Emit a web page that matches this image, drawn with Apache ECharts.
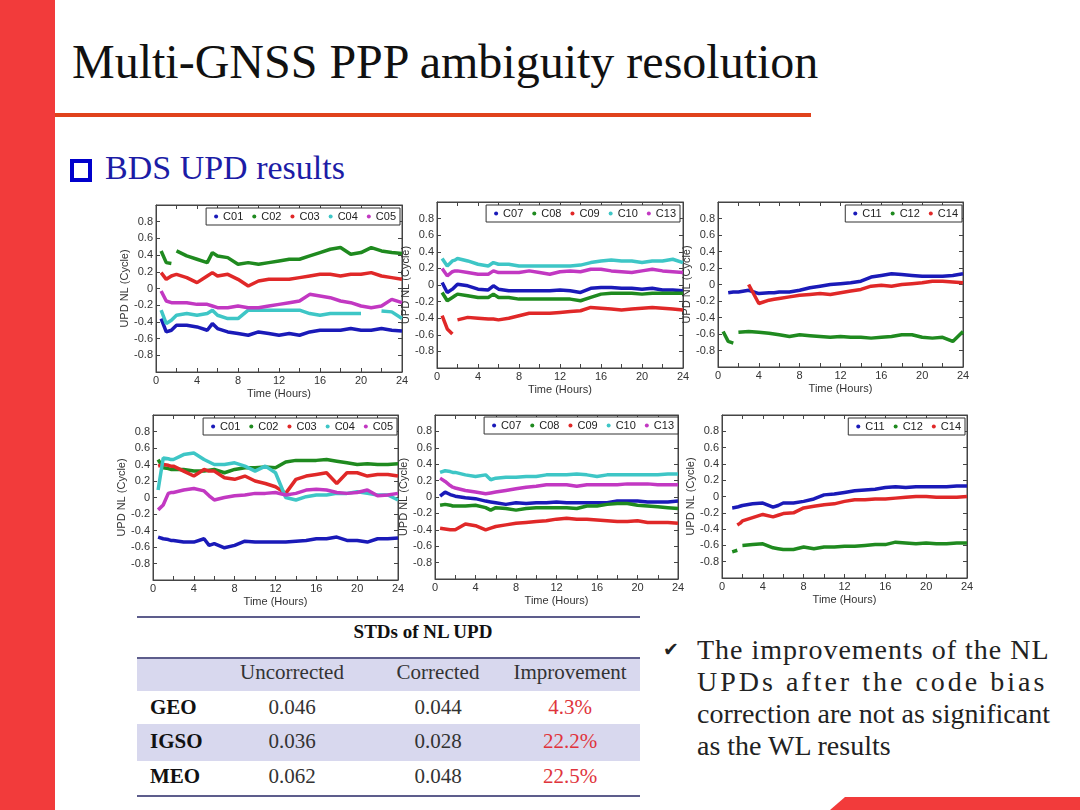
<!DOCTYPE html>
<html>
<head>
<meta charset="utf-8">
<title>BDS UPD results</title>
<script src="https://cdn.jsdelivr.net/npm/echarts@6/dist/echarts.min.js"></script>
<style>
  html, body { margin: 0; padding: 0; background: #fff; }
  #slide { position: relative; width: 1080px; height: 810px; overflow: hidden; background: #fff; font-family: "Liberation Serif", serif; color: #111; }
  #slide div { position: absolute; }
  #chart { left: 0; top: 0; width: 1080px; height: 810px; z-index: 2; }
  .bar { left: 0; top: 0; width: 55px; height: 810px; background: #f23b3b; }
  .rule { left: 55px; top: 113px; width: 756px; height: 4px; background: #e0421c; }
  .title { left: 72px; top: 38px; font-size: 48px; line-height: 48px; white-space: nowrap; }
  .box { left: 70px; top: 159px; width: 14px; height: 15px; border: 4px solid #0000cc; }
  .sub { left: 105px; top: 151px; font-size: 34px; line-height: 34px; color: #1c1ca6; white-space: nowrap; }
  .tline { left: 137px; width: 503px; height: 2px; background: #5d5d8c; }
  .band { left: 137px; width: 503px; background: #d8d8ee; }
  .cell { width: 160px; margin-left: -80px; text-align: center; font-size: 21px; line-height: 24px; color: #333; white-space: nowrap; }
  .lab { left: 150px; font-size: 21px; line-height: 24px; font-weight: bold; color: #111; }
  .red { color: #e0343c; }
  .note { left: 697px; font-size: 28px; line-height: 32px; color: #222; white-space: nowrap; }
  .tick { left: 663px; top: 638px; font-family: "DejaVu Sans", sans-serif; font-size: 19px; color: #222; }
  .corner { left: 830px; top: 797px; width: 250px; height: 13px; background: #f23b3b; clip-path: polygon(0 100%, 15px 0, 100% 0, 100% 100%); }
</style>
</head>
<body>
<div id="slide">
  <div class="bar"></div>
  <div class="title">Multi-GNSS PPP ambiguity resolution</div>
  <div class="rule"></div>
  <div class="box"></div>
  <div class="sub">BDS UPD results</div>

  <div class="tline" style="top:616px"></div>
  <div class="cell" style="left:423px;top:620px;font-weight:bold;font-size:19px;color:#111">STDs of NL UPD</div>
  <div class="band" style="top:658px;height:33px"></div>
  <div class="tline" style="top:657px"></div>
  <div class="band" style="top:724px;height:37px"></div>
  <div class="tline" style="top:795px"></div>
  <div id="table"></div>

  <div class="tick">✔</div>
  <div class="note" style="top:634px;letter-spacing:1px">The improvements of the NL</div>
  <div class="note" style="top:666px;letter-spacing:3px">UPDs after the code bias</div>
  <div class="note" style="top:698px">correction are not as significant</div>
  <div class="note" style="top:730px">as the WL results</div>

  <div class="corner"></div>
  <div id="chart"></div>
</div>
<script>
// time axis (hours) shared by every panel
const HOURS = [0.5, 1, 1.5, 1.75, 2, 3, 4, 5, 5.5, 6, 7, 8, 9, 10, 11, 12, 13, 14, 15, 16, 17, 18, 19, 20, 21, 22, 23, 24]

// top row: uncorrected NL UPD
const rawC01 = [-0.36, -0.52, -0.50, -0.47, -0.44, -0.44, -0.46, -0.50, -0.42, -0.48, -0.52, -0.54, -0.56, -0.52, -0.54, -0.56, -0.54, -0.56, -0.52, -0.50, -0.50, -0.50, -0.48, -0.50, -0.50, -0.48, -0.50, -0.51]
const rawC02 = [0.45, 0.31, 0.30, null, 0.45, 0.39, 0.35, 0.31, 0.43, 0.39, 0.37, 0.29, 0.31, 0.29, 0.31, 0.33, 0.35, 0.35, 0.39, 0.43, 0.47, 0.49, 0.41, 0.43, 0.49, 0.45, 0.43, 0.42]
const rawC03 = [0.19, 0.11, 0.15, 0.16, 0.17, 0.13, 0.07, 0.15, 0.19, 0.15, 0.17, 0.11, 0.03, 0.09, 0.11, 0.11, 0.11, 0.13, 0.15, 0.17, 0.17, 0.15, 0.17, 0.17, 0.19, 0.15, 0.13, 0.11]
const rawC04 = [-0.26, -0.42, -0.38, -0.35, -0.32, -0.30, -0.32, -0.30, -0.26, -0.32, -0.36, -0.36, -0.26, -0.26, -0.26, -0.26, -0.26, -0.26, -0.30, -0.32, -0.30, -0.30, -0.30, -0.30, null, -0.27, -0.28, -0.36]
const rawC05 = [-0.03, -0.15, -0.17, -0.17, -0.17, -0.17, -0.19, -0.19, -0.21, -0.23, -0.23, -0.21, -0.23, -0.23, -0.21, -0.19, -0.17, -0.15, -0.07, -0.09, -0.11, -0.15, -0.17, -0.21, -0.23, -0.21, -0.13, -0.17]
const rawC07 = [0.03, -0.09, -0.05, -0.02, 0.01, -0.01, -0.05, -0.06, -0.01, -0.05, -0.07, -0.07, -0.07, -0.07, -0.07, -0.06, -0.07, -0.09, -0.04, -0.03, -0.03, -0.04, -0.04, -0.05, -0.04, -0.06, -0.06, -0.07]
const rawC08 = [-0.09, -0.19, -0.15, -0.13, -0.11, -0.13, -0.15, -0.15, -0.11, -0.15, -0.15, -0.17, -0.17, -0.17, -0.17, -0.17, -0.17, -0.19, -0.15, -0.11, -0.10, -0.10, -0.10, -0.11, -0.10, -0.10, -0.10, -0.10]
const rawC09 = [-0.37, -0.53, -0.59, null, -0.42, -0.39, -0.40, -0.41, -0.41, -0.42, -0.40, -0.37, -0.34, -0.34, -0.34, -0.33, -0.32, -0.31, -0.27, -0.28, -0.29, -0.30, -0.29, -0.28, -0.27, -0.28, -0.29, -0.30]
const rawC10 = [0.32, 0.23, 0.29, 0.30, 0.32, 0.29, 0.25, 0.23, 0.27, 0.25, 0.25, 0.23, 0.23, 0.23, 0.23, 0.23, 0.23, 0.24, 0.27, 0.29, 0.30, 0.29, 0.29, 0.27, 0.29, 0.29, 0.31, 0.27]
const rawC13 = [0.20, 0.11, 0.16, 0.17, 0.17, 0.15, 0.13, 0.13, 0.17, 0.15, 0.15, 0.15, 0.17, 0.15, 0.13, 0.16, 0.17, 0.16, 0.19, 0.19, 0.17, 0.16, 0.15, 0.17, 0.19, 0.17, 0.16, 0.15]
const rawC11 = [null, -0.10, -0.09, -0.09, -0.09, -0.07, -0.11, -0.10, -0.10, -0.09, -0.09, -0.07, -0.04, -0.02, 0.00, 0.01, 0.02, 0.04, 0.09, 0.11, 0.13, 0.12, 0.11, 0.10, 0.10, 0.10, 0.11, 0.13]
const rawC12 = [-0.57, -0.69, -0.71, null, -0.58, -0.57, -0.58, -0.59, -0.60, -0.61, -0.63, -0.61, -0.62, -0.63, -0.64, -0.63, -0.64, -0.64, -0.65, -0.64, -0.63, -0.61, -0.61, -0.64, -0.65, -0.64, -0.69, -0.57]
const rawC14 = [null, null, null, null, null, 0.00, -0.23, -0.19, -0.18, -0.17, -0.15, -0.13, -0.12, -0.11, -0.12, -0.10, -0.08, -0.06, -0.02, -0.01, -0.02, 0.00, 0.01, 0.02, 0.04, 0.04, 0.03, 0.02]

// bottom row: code-bias corrected NL UPD
const corC01 = [-0.48, -0.50, -0.51, -0.52, -0.52, -0.54, -0.54, -0.50, -0.58, -0.56, -0.61, -0.58, -0.53, -0.54, -0.54, -0.54, -0.54, -0.53, -0.52, -0.50, -0.50, -0.48, -0.52, -0.52, -0.54, -0.50, -0.50, -0.49]
const corC02 = [0.46, 0.36, 0.35, 0.34, 0.34, 0.34, 0.32, 0.32, 0.33, 0.34, 0.30, 0.34, 0.36, 0.36, 0.37, 0.36, 0.43, 0.45, 0.45, 0.45, 0.46, 0.44, 0.42, 0.40, 0.41, 0.40, 0.40, 0.41]
const corC03 = [0.38, 0.40, 0.39, 0.38, 0.38, 0.32, 0.26, 0.34, 0.32, 0.32, 0.24, 0.22, 0.26, 0.20, 0.17, 0.13, 0.05, 0.22, 0.26, 0.28, 0.30, 0.17, 0.30, 0.30, 0.26, 0.28, 0.28, 0.26]
const corC04 = [0.09, 0.48, 0.47, 0.46, 0.46, 0.52, 0.54, 0.46, 0.43, 0.40, 0.40, 0.42, 0.38, 0.32, 0.38, 0.30, 0.00, -0.03, 0.01, 0.03, 0.03, 0.05, 0.05, 0.07, 0.05, 0.03, 0.03, -0.03]
const corC05 = [-0.15, -0.09, 0.05, 0.06, 0.06, 0.09, 0.11, 0.08, 0.02, -0.03, 0.00, 0.02, 0.03, 0.05, 0.05, 0.06, 0.03, 0.05, 0.09, 0.10, 0.09, 0.06, 0.05, 0.06, 0.09, 0.02, 0.03, 0.05]
const corC07 = [0.01, 0.06, 0.03, 0.02, 0.01, -0.01, -0.02, -0.05, -0.06, -0.07, -0.09, -0.07, -0.08, -0.07, -0.07, -0.06, -0.07, -0.07, -0.07, -0.07, -0.07, -0.05, -0.05, -0.05, -0.06, -0.06, -0.06, -0.05]
const corC08 = [-0.10, -0.09, -0.10, -0.11, -0.11, -0.11, -0.10, -0.13, -0.16, -0.13, -0.14, -0.16, -0.14, -0.13, -0.13, -0.13, -0.13, -0.14, -0.11, -0.11, -0.09, -0.08, -0.08, -0.10, -0.11, -0.12, -0.13, -0.14]
const corC09 = [-0.38, -0.39, -0.40, -0.40, -0.40, -0.33, -0.35, -0.40, -0.38, -0.36, -0.34, -0.32, -0.31, -0.30, -0.29, -0.27, -0.26, -0.27, -0.27, -0.28, -0.29, -0.30, -0.30, -0.29, -0.31, -0.31, -0.31, -0.32]
const corC10 = [0.30, 0.32, 0.31, 0.30, 0.30, 0.27, 0.25, 0.27, 0.21, 0.23, 0.24, 0.24, 0.25, 0.25, 0.27, 0.27, 0.27, 0.28, 0.27, 0.25, 0.27, 0.27, 0.27, 0.27, 0.27, 0.27, 0.28, 0.28]
const corC13 = [0.23, 0.19, 0.14, 0.12, 0.11, 0.08, 0.06, 0.04, 0.05, 0.06, 0.08, 0.10, 0.12, 0.13, 0.15, 0.15, 0.15, 0.13, 0.15, 0.15, 0.15, 0.15, 0.16, 0.16, 0.16, 0.15, 0.15, 0.15]
const corC11 = [null, -0.14, -0.13, -0.12, -0.11, -0.09, -0.08, -0.13, -0.11, -0.08, -0.08, -0.06, -0.03, 0.02, 0.03, 0.05, 0.07, 0.08, 0.09, 0.11, 0.12, 0.11, 0.12, 0.12, 0.12, 0.12, 0.13, 0.13]
const corC12 = [null, -0.68, -0.66, null, -0.60, -0.59, -0.58, -0.63, -0.64, -0.65, -0.65, -0.62, -0.64, -0.62, -0.62, -0.61, -0.61, -0.60, -0.59, -0.59, -0.56, -0.57, -0.58, -0.57, -0.58, -0.58, -0.57, -0.57]
const corC14 = [null, null, -0.35, -0.33, -0.30, -0.26, -0.22, -0.25, -0.23, -0.21, -0.20, -0.14, -0.12, -0.10, -0.09, -0.06, -0.04, -0.04, -0.03, -0.03, -0.02, -0.01, 0.00, 0.00, -0.01, -0.01, -0.01, 0.00]

// STD table
const ORBITS = ['GEO', 'IGSO', 'MEO']
const STD_UNCORRECTED = ['0.046', '0.036', '0.062']
const STD_CORRECTED = ['0.044', '0.028', '0.048']
const STD_IMPROVEMENT = ['4.3%', '22.2%', '22.5%']

const SAT_COLORS = {
  C01: '#1a1ab8', C02: '#1f8a1f', C03: '#e02828', C04: '#3ec6c6', C05: '#c238c2',
  C07: '#1a1ab8', C08: '#1f8a1f', C09: '#e02828', C10: '#3ec6c6', C13: '#c238c2',
  C11: '#1a1ab8', C12: '#1f8a1f', C14: '#e02828'
}

// panel layout: grid [left, top, width, height], legend [right, top]
const PANELS = [
  { grid: [156, 205, 246, 167], legend: [680, 208], sats: ['C01', 'C02', 'C03', 'C04', 'C05'], values: [rawC01, rawC02, rawC03, rawC04, rawC05] },
  { grid: [437, 202, 246, 166], legend: [400, 205], sats: ['C07', 'C08', 'C09', 'C10', 'C13'], values: [rawC07, rawC08, rawC09, rawC10, rawC13] },
  { grid: [718, 202, 245, 165], legend: [118, 205], sats: ['C11', 'C12', 'C14'], values: [rawC11, rawC12, rawC14] },
  { grid: [153, 415, 245, 165], legend: [683, 418], sats: ['C01', 'C02', 'C03', 'C04', 'C05'], values: [corC01, corC02, corC03, corC04, corC05] },
  { grid: [435, 415, 243, 164], legend: [402, 417], sats: ['C07', 'C08', 'C09', 'C10', 'C13'], values: [corC07, corC08, corC09, corC10, corC13] },
  { grid: [722, 415, 245, 163], legend: [115, 418], sats: ['C11', 'C12', 'C14'], values: [corC11, corC12, corC14] }
]

// table cells
let table = document.getElementById('table')
let colX = [292, 438, 570]
let head = ['Uncorrected', 'Corrected', 'Improvement']
let rowY = [695, 729, 764]
let html = ''
head.forEach((h, i) => {
  html += '<div class="cell" style="left:' + colX[i] + 'px;top:660px">' + h + '</div>'
})
ORBITS.forEach((o, r) => {
  html += '<div class="lab" style="top:' + rowY[r] + 'px">' + o + '</div>'
  html += '<div class="cell" style="left:' + colX[0] + 'px;top:' + rowY[r] + 'px">' + STD_UNCORRECTED[r] + '</div>'
  html += '<div class="cell" style="left:' + colX[1] + 'px;top:' + rowY[r] + 'px">' + STD_CORRECTED[r] + '</div>'
  html += '<div class="cell red" style="left:' + colX[2] + 'px;top:' + rowY[r] + 'px">' + STD_IMPROVEMENT[r] + '</div>'
})
table.outerHTML = html

// charts
let labelStyle = { fontFamily: 'Liberation Sans', fontSize: 11, color: '#333' }
let grid = []
let xAxis = []
let yAxis = []
let legend = []
let series = []

PANELS.forEach((p, i) => {
  grid.push({ left: p.grid[0], top: p.grid[1], width: p.grid[2], height: p.grid[3], show: true, borderColor: '#444', borderWidth: 1, backgroundColor: 'transparent' })
  let xBase = {
    type: 'value', gridIndex: i, min: 0, max: 24, interval: 2,
    axisLine: { show: true, onZero: false, lineStyle: { color: '#444' } },
    axisTick: { show: true, inside: true, length: 4, lineStyle: { color: '#444' } },
    splitLine: { show: false }
  }
  xAxis.push(Object.assign({}, xBase, {
    position: 'bottom',
    name: 'Time (Hours)', nameLocation: 'middle', nameGap: 16,
    nameTextStyle: labelStyle,
    axisLabel: Object.assign({ margin: 3, formatter: v => (v % 4 === 0 ? String(v) : '') }, labelStyle)
  }))
  xAxis.push(Object.assign({}, xBase, { position: 'top', axisLabel: { show: false } }))
  let yBase = {
    type: 'value', gridIndex: i, min: -1, max: 1, interval: 0.2,
    axisLine: { show: true, onZero: false, lineStyle: { color: '#444' } },
    axisTick: { show: true, inside: true, length: 4, lineStyle: { color: '#444' } },
    splitLine: { show: false }
  }
  yAxis.push(Object.assign({}, yBase, {
    position: 'left',
    name: 'UPD NL (Cycle)', nameLocation: 'middle', nameGap: 16,
    nameTextStyle: labelStyle,
    axisLabel: Object.assign({
      margin: 3,
      formatter: v => (Math.abs(v) > 0.95 ? '' : (Math.abs(v) < 1e-9 ? '0' : v.toFixed(1)))
    }, labelStyle)
  }))
  yAxis.push(Object.assign({}, yBase, { position: 'right', axisLabel: { show: false } }))

  legend.push({
    right: p.legend[0], top: p.legend[1], orient: 'horizontal',
    icon: 'circle', itemWidth: 4, itemHeight: 4, itemGap: 9,
    padding: [3, 4, 3, 8], borderColor: '#333', borderWidth: 1, backgroundColor: '#fff',
    textStyle: { fontFamily: 'Liberation Sans', fontSize: 11, color: '#222' },
    selectedMode: false,
    data: p.sats
  })

  p.sats.forEach((s, k) => {
    series.push({
      type: 'line', name: s, xAxisIndex: 2 * i, yAxisIndex: 2 * i,
      showSymbol: false, connectNulls: false, animation: false,
      color: SAT_COLORS[s],
      lineStyle: { width: 3.5, color: SAT_COLORS[s] },
      data: HOURS.map((t, j) => [t, p.values[k][j] == null ? '-' : p.values[k][j]])
    })
  })
})

let chart = echarts.init(document.getElementById('chart'), null, { renderer: 'canvas' })
chart.setOption({ animation: false, grid, xAxis, yAxis, legend, series })
</script>
</body>
</html>
